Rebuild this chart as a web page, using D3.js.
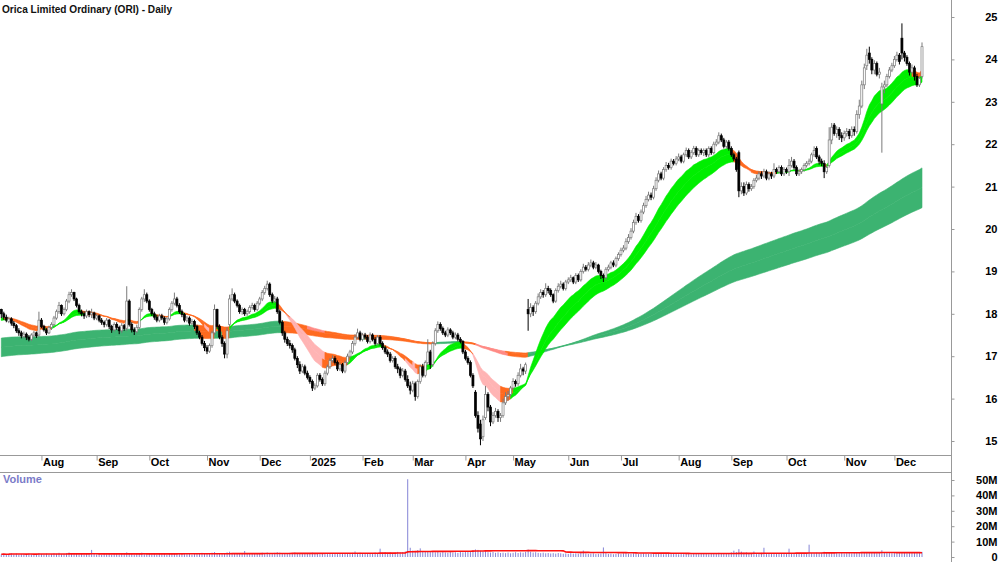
<!DOCTYPE html>
<html>
<head>
<meta charset="utf-8">
<script src="https://cdn.jsdelivr.net/npm/d3@7"></script>
<style>
  body { margin: 0; background: #fff; }
  svg text { font-family: "Liberation Sans", Arial, sans-serif; }
</style>
</head>
<body>
<svg id="chart" width="1000" height="562"></svg>
<script>
// daily bars, Jul 2024 - Dec 2025
var opens = [
  18.10,18.00,17.92,17.82,17.88,17.78,17.72,17.60,17.55,17.46,
  17.52,17.45,17.40,17.50,17.55,17.50,17.85,17.70,17.62,17.55,
  17.68,17.75,17.90,18.05,18.20,18.00,18.10,18.30,18.45,18.50,
  18.35,18.20,18.05,18.00,17.95,18.05,17.98,18.02,17.90,17.95,
  17.85,17.80,17.75,17.85,17.70,17.62,17.75,17.68,17.60,17.72,
  17.66,18.30,17.75,17.62,17.58,17.68,18.10,18.35,18.45,18.30,
  18.10,18.00,17.92,17.85,17.95,17.90,17.80,17.88,18.10,18.25,
  18.35,18.20,18.05,17.98,17.85,17.90,17.78,17.82,17.70,17.55,
  17.45,17.30,17.20,17.12,17.25,17.55,18.10,17.70,17.45,17.30,
  17.05,17.75,18.35,18.45,18.30,18.20,18.05,18.10,18.00,18.05,
  18.15,18.20,18.10,18.25,18.35,18.50,18.60,18.70,18.45,18.30,
  18.35,18.05,17.80,17.55,17.40,17.30,17.25,17.15,16.95,16.80,
  16.65,16.75,16.60,16.50,16.40,16.25,16.30,16.55,16.45,16.35,
  16.60,16.75,16.90,16.95,16.85,16.70,16.80,16.65,16.85,17.00,
  17.10,17.30,17.45,17.55,17.40,17.50,17.45,17.35,17.50,17.40,
  17.30,17.45,17.30,17.20,17.10,17.05,16.90,16.95,16.75,16.70,
  16.55,16.65,16.45,16.30,16.20,16.35,16.05,16.40,16.75,16.55,
  16.85,17.10,16.80,17.30,17.60,17.75,17.65,17.55,17.50,17.62,
  17.55,17.45,17.50,17.40,17.35,17.10,16.95,16.85,16.55,16.15,
  15.60,15.40,15.10,15.55,16.10,15.80,15.45,15.60,15.70,15.55,
  15.60,15.90,16.05,16.10,16.25,16.40,16.35,16.55,16.70,16.65,
  18.10,18.00,18.15,18.05,18.25,18.40,18.50,18.45,18.60,18.55,
  18.45,18.30,18.55,18.65,18.70,18.60,18.75,18.80,18.85,18.75,
  18.90,18.80,19.00,19.10,19.05,19.15,19.20,19.10,19.15,19.00,
  18.90,18.85,19.05,19.10,19.20,19.15,19.30,19.40,19.50,19.55,
  19.70,19.80,19.95,20.15,20.30,20.20,20.40,20.55,20.70,20.80,
  20.75,20.95,21.15,21.30,21.20,21.40,21.50,21.45,21.60,21.55,
  21.65,21.70,21.60,21.75,21.85,21.70,21.80,21.90,21.75,21.85,
  21.80,21.85,21.75,21.90,21.80,22.00,22.05,22.20,22.10,21.95,
  22.05,21.90,21.75,21.65,21.80,20.90,21.00,20.85,21.05,20.95,
  21.00,21.15,21.20,21.30,21.25,21.35,21.20,21.30,21.25,21.40,
  21.35,21.45,21.30,21.40,21.35,21.50,21.60,21.45,21.30,21.35,
  21.40,21.50,21.55,21.60,21.75,21.90,21.70,21.60,21.55,21.35,
  21.50,22.10,22.45,22.25,22.35,22.20,22.15,22.25,22.30,22.20,
  22.35,22.30,22.70,22.90,23.40,23.85,24.15,24.00,23.75,23.90,
  23.65,22.95,23.35,23.40,23.60,23.75,23.85,24.00,24.10,24.50,
  24.15,24.05,23.90,23.70,23.80,23.60,23.40,23.60
];
var highs = [
  18.12,18.05,17.98,17.93,17.92,17.83,17.76,17.66,17.60,17.58,
  17.56,17.50,17.54,17.60,17.58,18.05,17.90,17.74,17.66,17.72,
  17.80,17.95,18.10,18.28,18.22,18.15,18.35,18.52,18.58,18.52,
  18.38,18.24,18.10,18.06,18.10,18.08,18.12,18.05,18.00,17.98,
  17.90,17.84,17.90,17.88,17.74,17.80,17.80,17.72,17.78,17.76,
  18.65,18.34,17.80,17.68,17.74,18.15,18.40,18.58,18.50,18.34,
  18.14,18.05,17.98,18.00,18.00,17.94,17.92,18.15,18.30,18.50,
  18.40,18.25,18.10,18.02,17.95,17.94,17.88,17.86,17.74,17.60,
  17.50,17.36,17.26,17.30,17.60,18.22,18.12,17.75,17.50,17.35,
  17.68,18.45,18.60,18.50,18.34,18.24,18.15,18.14,18.10,18.20,
  18.26,18.24,18.30,18.40,18.56,18.66,18.78,18.74,18.50,18.42,
  18.40,18.10,17.85,17.60,17.46,17.38,17.30,17.20,17.00,16.88,
  16.82,16.80,16.66,16.55,16.45,16.36,16.60,16.60,16.50,16.66,
  16.80,16.95,17.02,17.00,16.90,16.85,16.84,16.90,17.06,17.15,
  17.36,17.52,17.65,17.60,17.55,17.55,17.50,17.56,17.54,17.45,
  17.50,17.50,17.35,17.25,17.16,17.10,17.00,17.00,16.82,16.75,
  16.72,16.70,16.55,16.40,16.42,16.40,16.45,16.80,16.82,16.90,
  17.40,17.15,17.35,17.66,17.82,17.80,17.70,17.60,17.68,17.66,
  17.60,17.56,17.55,17.45,17.38,17.15,17.00,16.90,16.60,16.20,
  15.70,15.50,15.60,16.30,16.15,15.85,15.68,15.78,15.75,15.66,
  16.00,16.15,16.18,16.30,16.48,16.45,16.62,16.82,16.75,16.85,
  18.35,18.25,18.20,18.30,18.48,18.58,18.56,18.72,18.66,18.60,
  18.48,18.60,18.72,18.78,18.74,18.80,18.86,18.92,18.88,18.96,
  18.95,19.05,19.18,19.15,19.22,19.28,19.25,19.22,19.18,19.04,
  18.95,19.10,19.16,19.25,19.26,19.35,19.45,19.56,19.62,19.78,
  19.88,20.02,20.22,20.38,20.35,20.46,20.62,20.78,20.88,20.86,
  21.02,21.22,21.38,21.35,21.46,21.58,21.56,21.66,21.65,21.72,
  21.78,21.75,21.80,21.92,21.90,21.86,21.96,21.95,21.90,21.90,
  21.90,21.90,21.95,21.95,22.06,22.12,22.28,22.25,22.15,22.10,
  22.10,21.95,21.80,21.70,21.85,21.10,21.10,21.12,21.10,21.06,
  21.20,21.28,21.36,21.36,21.42,21.40,21.36,21.35,21.55,21.45,
  21.50,21.50,21.46,21.45,21.65,21.70,21.65,21.50,21.42,21.45,
  21.55,21.60,21.66,21.80,21.95,21.95,21.75,21.66,21.62,21.50,
  22.40,22.50,22.50,22.42,22.40,22.28,22.32,22.38,22.36,22.42,
  22.42,22.80,23.05,23.50,23.90,24.25,24.30,24.05,23.98,23.95,
  23.80,23.45,23.50,23.66,23.82,23.92,24.08,24.18,24.15,24.85,
  24.20,24.10,23.95,23.88,23.85,23.66,23.60,24.40
];
var lows = [
  17.90,17.86,17.80,17.78,17.72,17.66,17.55,17.48,17.42,17.42,
  17.38,17.35,17.36,17.45,17.43,17.46,17.66,17.58,17.50,17.52,
  17.62,17.70,17.86,18.00,17.95,17.96,18.06,18.25,18.40,18.30,
  18.15,18.00,17.94,17.88,17.90,17.92,17.90,17.85,17.85,17.80,
  17.74,17.68,17.70,17.64,17.55,17.58,17.62,17.52,17.55,17.60,
  17.60,17.70,17.56,17.50,17.54,17.64,18.05,18.28,18.25,18.05,
  17.95,17.86,17.80,17.80,17.85,17.74,17.75,17.84,18.05,18.20,
  18.15,18.00,17.92,17.80,17.80,17.72,17.74,17.64,17.50,17.40,
  17.25,17.12,17.05,17.08,17.20,17.50,17.65,17.40,17.22,16.95,
  16.95,17.70,18.30,18.25,18.15,18.00,17.98,17.95,17.95,18.00,
  18.10,18.05,18.06,18.20,18.30,18.45,18.55,18.40,18.25,18.25,
  18.00,17.75,17.48,17.32,17.24,17.18,17.08,16.90,16.72,16.58,
  16.60,16.55,16.45,16.35,16.18,16.20,16.26,16.40,16.30,16.30,
  16.55,16.70,16.85,16.80,16.65,16.65,16.60,16.60,16.80,16.95,
  17.05,17.25,17.40,17.35,17.35,17.40,17.30,17.30,17.35,17.25,
  17.25,17.25,17.15,17.05,16.98,16.85,16.85,16.70,16.60,16.48,
  16.50,16.40,16.25,16.10,16.15,15.95,16.00,16.35,16.50,16.50,
  16.80,16.70,16.75,17.25,17.55,17.60,17.50,17.45,17.45,17.50,
  17.40,17.40,17.35,17.30,17.05,16.90,16.80,16.50,16.25,15.55,
  15.20,14.90,15.00,15.50,15.70,15.35,15.40,15.55,15.45,15.45,
  15.55,15.85,15.95,16.05,16.20,16.28,16.30,16.50,16.55,16.58,
  17.60,17.92,17.95,18.00,18.20,18.35,18.38,18.40,18.48,18.40,
  18.25,18.26,18.50,18.60,18.55,18.55,18.70,18.75,18.70,18.70,
  18.75,18.76,18.95,19.00,19.00,19.10,19.05,19.05,18.95,18.82,
  18.75,18.80,19.00,19.05,19.10,19.10,19.25,19.35,19.45,19.50,
  19.65,19.75,19.90,20.10,20.15,20.15,20.35,20.50,20.65,20.68,
  20.70,20.90,21.10,21.15,21.15,21.35,21.40,21.40,21.50,21.50,
  21.60,21.55,21.55,21.70,21.65,21.65,21.75,21.70,21.70,21.75,
  21.72,21.70,21.70,21.75,21.76,21.95,22.00,22.05,21.90,21.90,
  21.85,21.70,21.60,21.35,20.75,20.82,20.78,20.80,20.88,20.90,
  20.95,21.10,21.15,21.18,21.20,21.15,21.15,21.18,21.20,21.30,
  21.30,21.25,21.25,21.30,21.25,21.45,21.40,21.25,21.25,21.30,
  21.35,21.45,21.50,21.55,21.70,21.65,21.52,21.48,21.20,21.30,
  21.45,22.00,22.20,22.15,22.10,22.05,22.08,22.18,22.12,22.15,
  22.20,22.25,22.60,22.85,23.30,23.75,23.90,23.65,23.65,23.60,
  23.55,21.80,23.20,23.35,23.55,23.70,23.80,23.95,23.88,24.00,
  23.95,23.85,23.62,23.65,23.50,23.35,23.35,23.55
];
var closes = [
  18.00,17.92,17.85,17.88,17.78,17.72,17.60,17.55,17.48,17.52,
  17.45,17.40,17.50,17.55,17.48,17.85,17.70,17.62,17.55,17.68,
  17.75,17.90,18.05,18.20,18.00,18.10,18.30,18.45,18.50,18.35,
  18.20,18.05,18.00,17.95,18.05,17.98,18.02,17.90,17.95,17.85,
  17.80,17.75,17.85,17.70,17.62,17.75,17.68,17.60,17.72,17.65,
  18.30,17.75,17.62,17.58,17.68,18.10,18.35,18.45,18.30,18.10,
  18.00,17.92,17.85,17.95,17.90,17.80,17.88,18.10,18.25,18.35,
  18.20,18.05,17.98,17.85,17.90,17.78,17.82,17.70,17.55,17.45,
  17.30,17.20,17.12,17.25,17.55,18.10,17.70,17.45,17.30,17.05,
  17.60,18.35,18.45,18.30,18.20,18.05,18.10,18.00,18.05,18.15,
  18.20,18.10,18.25,18.35,18.50,18.60,18.70,18.45,18.30,18.35,
  18.05,17.80,17.55,17.40,17.30,17.25,17.15,16.95,16.80,16.65,
  16.75,16.60,16.50,16.40,16.25,16.30,16.55,16.45,16.35,16.60,
  16.75,16.90,16.95,16.85,16.70,16.80,16.65,16.85,17.00,17.10,
  17.30,17.45,17.55,17.40,17.50,17.45,17.35,17.50,17.40,17.30,
  17.45,17.30,17.20,17.10,17.05,16.90,16.95,16.75,16.70,16.55,
  16.65,16.45,16.30,16.20,16.35,16.05,16.40,16.75,16.55,16.85,
  17.10,16.80,17.30,17.60,17.75,17.65,17.55,17.50,17.62,17.55,
  17.45,17.50,17.40,17.35,17.10,16.95,16.85,16.55,16.30,15.60,
  15.30,15.05,15.50,16.10,15.80,15.45,15.60,15.70,15.55,15.60,
  15.90,16.05,16.10,16.25,16.40,16.35,16.55,16.70,16.65,16.80,
  18.00,18.15,18.05,18.25,18.40,18.50,18.45,18.60,18.55,18.45,
  18.30,18.55,18.65,18.70,18.60,18.75,18.80,18.85,18.75,18.90,
  18.80,19.00,19.10,19.05,19.15,19.20,19.10,19.15,19.00,18.90,
  18.85,19.05,19.10,19.20,19.15,19.30,19.40,19.50,19.55,19.70,
  19.80,19.95,20.15,20.30,20.20,20.40,20.55,20.70,20.80,20.75,
  20.95,21.15,21.30,21.20,21.40,21.50,21.45,21.60,21.55,21.65,
  21.70,21.60,21.75,21.85,21.70,21.80,21.90,21.75,21.85,21.80,
  21.85,21.75,21.90,21.80,22.00,22.05,22.20,22.10,21.95,22.05,
  21.90,21.75,21.65,21.40,20.90,21.00,20.85,21.05,20.95,21.00,
  21.15,21.20,21.30,21.25,21.35,21.20,21.30,21.25,21.40,21.35,
  21.45,21.30,21.40,21.35,21.50,21.60,21.45,21.30,21.35,21.40,
  21.50,21.55,21.60,21.75,21.85,21.70,21.60,21.55,21.35,21.45,
  22.10,22.40,22.25,22.35,22.20,22.15,22.25,22.30,22.20,22.35,
  22.30,22.70,22.90,23.40,23.80,24.10,24.00,23.75,23.90,23.65,
  23.70,23.35,23.40,23.60,23.75,23.85,24.00,24.10,23.95,24.15,
  24.05,23.90,23.70,23.80,23.60,23.40,23.55,24.30
];
// volume in millions
var volumes = [
  1.8,2.1,1.6,1.9,2.4,1.7,2.2,1.5,1.9,2.0,
  1.6,2.3,1.8,1.4,2.0,2.6,1.9,1.7,2.2,1.5,
  1.9,2.4,2.1,2.7,1.8,2.0,2.5,2.9,2.2,1.9,
  2.3,1.7,2.0,1.6,2.2,1.8,4.6,2.1,1.7,1.9,
  1.5,2.0,1.8,2.3,1.6,1.9,2.1,1.7,2.4,1.8,
  3.0,2.2,1.9,1.6,2.0,2.5,2.8,2.1,1.8,2.2,
  1.7,1.9,1.6,2.0,1.8,2.3,1.5,2.2,2.6,2.0,
  1.8,2.1,1.7,2.4,1.9,2.2,1.6,2.0,2.5,2.3,
  2.7,2.1,2.4,1.9,2.8,3.2,2.5,2.2,2.0,2.6,
  3.0,3.4,2.5,2.1,2.3,1.9,2.0,3.9,2.4,2.2,
  2.6,2.0,2.3,2.1,2.8,2.5,2.9,2.2,2.4,2.7,
  3.1,2.8,2.5,2.6,2.3,2.7,2.4,2.9,2.2,2.5,
  2.1,2.4,2.0,2.6,2.8,2.3,2.5,2.0,2.2,2.4,
  2.1,2.3,1.9,2.2,2.5,2.0,2.4,2.1,2.6,2.3,
  2.7,3.6,2.4,2.8,2.2,2.5,2.3,2.6,2.4,2.9,
  2.6,5.4,2.8,3.1,2.7,3.0,2.5,2.9,3.3,3.0,
  3.2,3.6,50.5,6.0,4.2,3.8,4.5,5.6,3.9,3.4,
  3.6,3.2,3.8,3.1,3.5,2.9,3.3,3.0,2.8,3.2,
  2.9,3.1,2.7,3.4,3.0,3.6,3.2,3.8,4.4,4.9,
  4.6,4.0,3.5,3.8,3.1,2.9,3.3,2.7,3.0,2.6,
  2.8,2.5,2.9,2.4,2.7,3.1,2.6,3.0,2.8,3.3,
  4.8,3.4,2.9,3.1,2.7,2.5,2.8,2.4,2.6,2.3,
  2.5,2.2,2.6,2.4,2.1,2.3,2.0,2.5,2.2,2.4,
  2.1,2.6,4.2,2.3,2.0,2.2,2.4,1.9,2.1,2.3,
  6.2,2.5,2.0,2.2,1.8,2.1,2.3,1.9,2.4,2.6,
  2.2,2.0,2.5,2.3,1.9,2.1,2.4,2.2,2.0,2.3,
  1.9,2.2,2.4,2.0,1.8,2.1,2.3,1.9,2.2,2.0,
  1.8,2.1,1.9,2.3,2.0,1.7,2.2,2.4,1.9,2.1,
  2.0,2.2,1.8,2.1,2.5,2.3,2.7,2.0,2.2,2.4,
  2.6,3.0,4.1,3.2,5.1,3.5,2.8,3.0,2.6,2.4,
  3.6,2.5,2.2,2.7,6.0,2.4,2.1,2.6,2.3,2.0,
  2.2,2.5,2.0,2.4,5.4,2.3,2.1,2.6,2.2,2.4,
  2.5,2.3,8.0,2.6,2.4,2.8,2.5,2.7,3.4,3.0,
  3.1,2.7,2.5,2.8,2.4,2.6,2.3,2.5,2.7,2.4,
  2.6,2.9,3.1,3.3,3.0,2.8,2.6,2.9,2.7,2.5,
  2.8,4.4,3.0,2.6,2.8,2.5,2.7,2.9,2.6,3.2,
  2.7,2.5,2.8,2.6,3.0,2.7,2.9,3.3
];

var monthLabels = ["Aug","Sep","Oct","Nov","Dec","2025","Feb","Mar","Apr","May","Jun","Jul","Aug","Sep","Oct","Nov","Dec"];
var monthStarts = [16, 38, 59, 82, 103, 123, 144, 164, 185, 204, 226, 247, 270, 291, 313, 336, 356];
var priceTicks = [15, 16, 17, 18, 19, 20, 21, 22, 23, 24, 25];
var volumeTicks = [0, 10, 20, 30, 40, 50];
var volumeTickLabels = ["0", "10M", "20M", "30M", "40M", "50M"];

// ribbon EMAs with starting values
var shortPeriods = [15, 22, 30];
var shortSeeds = [17.82, 17.86, 17.90];
var longPeriods = [150, 190, 240];
var longSeeds = [17.42, 17.20, 16.98];
var volumeAvgWindow = 63;
var slopeLag = 4;

var svg = d3.select("#chart");
var W = 1000, H = 562;
var axisX = 951, plotBottom = 455, volTop = 472;
var N = closes.length;

var x = d3.scaleLinear().domain([0, N - 1]).range([1.3, 922]);
var y = d3.scaleLinear().domain([15, 25]).range([441, 17]);
var yv = d3.scaleLinear().domain([0, 50]).range([557, 480]);

function ema(period, seed) {
  var k = 2 / (period + 1), prev = seed;
  return closes.map(function(c) {
    prev = prev + k * (c - prev);
    return prev;
  });
}

var shortE = shortPeriods.map(function(p, i) { return ema(p, shortSeeds[i]); });
var longE = longPeriods.map(function(p, i) { return ema(p, longSeeds[i]); });

svg.append("defs").append("clipPath").attr("id", "plot")
  .append("rect").attr("x", 0).attr("y", 0).attr("width", axisX).attr("height", plotBottom);

var plot = svg.append("g").attr("clip-path", "url(#plot)");

// average slope per bar over the last few bars
function slope(arr, i) {
  var j = Math.max(0, i - slopeLag);
  if (j === i) return arr[1] - arr[0];
  return (arr[i] - arr[j]) / (i - j);
}

// fill between two averages, coloured by their direction, run by run
function band(g, a, b, cols, thr) {
  var col = a.map(function(v, i) {
    var sa = slope(a, i), sb = slope(b, i);
    if (sa > 0 && sb > 0) return cols.up;
    if (Math.max(sa, sb) < -thr) return cols.down;
    return cols.flat;
  });
  var area = d3.area()
    .x(function(j) { return x(j); })
    .y0(function(j) { return y(a[j]); })
    .y1(function(j) { return y(b[j]); });
  var start = 0;
  for (var i = 1; i <= N; i++) {
    if (i === N || col[i] !== col[start]) {
      var idx = d3.range(Math.max(0, start - 1), i);
      g.append("path").datum(idx)
        .attr("fill", col[start])
        .attr("stroke", col[start])
        .attr("stroke-width", 0.6)
        .attr("d", area);
      start = i;
    }
  }
}

var longCols = {up: "#3cb371", down: "#ff8a84", flat: "#ff6a1f"};
var shortCols = {up: "#00ee00", down: "#ffb4b4", flat: "#ff6a1f"};
band(plot, longE[0], longE[1], longCols, 0.011);
band(plot, longE[1], longE[2], longCols, 0.011);
band(plot, shortE[0], shortE[1], shortCols, 0.045);
band(plot, shortE[1], shortE[2], shortCols, 0.045);

// candles
var bw = 2;
var candles = plot.selectAll(".candle")
  .data(closes)
  .enter().append("g")
  .attr("class", "candle");

candles.append("line")
  .attr("x1", function(d, i) { return x(i); })
  .attr("x2", function(d, i) { return x(i); })
  .attr("y1", function(d, i) { return y(highs[i]); })
  .attr("y2", function(d, i) { return y(lows[i]); })
  .attr("stroke", function(d, i) { return d >= opens[i] ? "#7a7a7a" : "#000"; })
  .attr("stroke-width", 1);

candles.append("rect")
  .attr("x", function(d, i) { return x(i) - bw / 2; })
  .attr("y", function(d, i) { return y(Math.max(d, opens[i])); })
  .attr("width", bw)
  .attr("height", function(d, i) { return Math.max(0.8, Math.abs(y(d) - y(opens[i]))); })
  .attr("fill", function(d, i) { return d >= opens[i] ? "#fff" : "#000"; })
  .attr("stroke", function(d, i) { return d >= opens[i] ? "#7a7a7a" : "#000"; })
  .attr("stroke-width", 0.7);

// frame lines
svg.append("line").attr("x1", axisX + 0.5).attr("x2", axisX + 0.5).attr("y1", 0).attr("y2", H)
  .attr("stroke", "#999");
svg.append("line").attr("x1", 0).attr("x2", axisX).attr("y1", plotBottom + 0.5).attr("y2", plotBottom + 0.5)
  .attr("stroke", "#999");
svg.append("line").attr("x1", 0).attr("x2", axisX).attr("y1", volTop + 0.5).attr("y2", volTop + 0.5)
  .attr("stroke", "#999");

// price axis
var ya = svg.append("g")
  .attr("transform", "translate(" + (axisX + 0.5) + ",0)")
  .call(d3.axisRight(y).tickValues(priceTicks).tickSize(3).tickFormat(d3.format("d")));
ya.select(".domain").remove();
ya.selectAll("line").attr("stroke", "#999");
ya.selectAll("text").attr("x", 46).attr("text-anchor", "end")
  .attr("font-size", 11).attr("font-weight", "bold").attr("fill", "#000");

// month axis
var xa = svg.append("g")
  .attr("transform", "translate(0," + (plotBottom + 0.5) + ")")
  .call(d3.axisBottom(x).tickValues(monthStarts).tickSize(5)
    .tickFormat(function(d, i) { return monthLabels[i]; }));
xa.select(".domain").remove();
xa.selectAll("line").attr("stroke", "#999");
xa.selectAll("text").attr("text-anchor", "start").attr("x", 1).attr("y", 3)
  .attr("font-size", 11).attr("font-weight", "bold").attr("fill", "#000");

// volume
var vol = svg.append("g");
vol.selectAll(".vbar")
  .data(volumes)
  .enter().append("line")
  .attr("class", "vbar")
  .attr("x1", function(d, i) { return x(i); })
  .attr("x2", function(d, i) { return x(i); })
  .attr("y1", yv(0))
  .attr("y2", function(d) { return yv(d); })
  .attr("stroke", "#8585d6")
  .attr("stroke-width", 1);

var volAvg = volumes.map(function(v, i) {
  return d3.mean(volumes.slice(Math.max(0, i - volumeAvgWindow + 1), i + 1));
});
vol.append("path").datum(volAvg)
  .attr("fill", "none")
  .attr("stroke", "#ff1010")
  .attr("stroke-width", 1.6)
  .attr("d", d3.line().x(function(d, i) { return x(i); }).y(function(d) { return yv(d); }));

var va = svg.append("g")
  .attr("transform", "translate(" + (axisX + 0.5) + ",0)")
  .call(d3.axisRight(yv).tickValues(volumeTicks).tickSize(3)
    .tickFormat(function(d, i) { return volumeTickLabels[i]; }));
va.select(".domain").remove();
va.selectAll("line").attr("stroke", "#999");
va.selectAll("text").attr("x", 46).attr("text-anchor", "end")
  .attr("font-size", 11).attr("font-weight", "bold").attr("fill", "#000");

// titles
svg.append("text").attr("x", 2).attr("y", 13)
  .attr("font-size", 11.5).attr("font-weight", "bold").attr("fill", "#111")
  .attr("textLength", 170).attr("lengthAdjust", "spacingAndGlyphs")
  .text("Orica Limited Ordinary (ORI) - Daily");
svg.append("text").attr("x", 3).attr("y", 483)
  .attr("font-size", 11).attr("font-weight", "bold").attr("fill", "#7b7bc8")
  .text("Volume");
</script>
</body>
</html>
